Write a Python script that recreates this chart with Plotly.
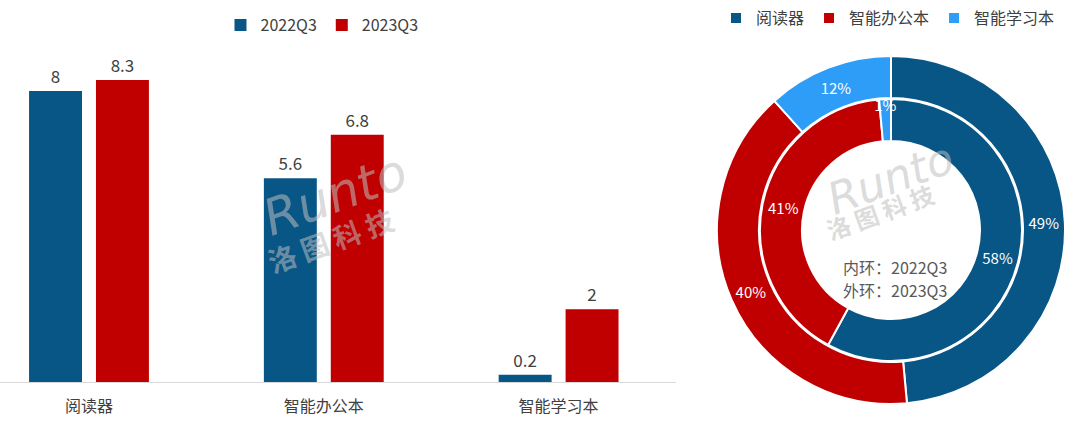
import plotly.graph_objects as go

categories = ["阅读器", "智能办公本", "智能学习本"]
series_names = ["2022Q3", "2023Q3"]
values_2022 = [8, 5.6, 0.2]
values_2023 = [8.3, 6.8, 2]
bar_colors = ["#085686", "#C00000"]
pie_colors = ["#085686", "#C00000", "#2E9DF7"]
center_lines = ["内环：2022Q3", "外环：2023Q3"]

FONT = "Noto Sans CJK SC"
W, H = 1080, 426

fig = go.Figure()
for name, vals, col in zip(series_names, [values_2022, values_2023], bar_colors):
    fig.add_trace(go.Bar(
        x=categories, y=vals, name=name, marker=dict(color=col, line=dict(width=0)),
        text=[f"{v:g}" for v in vals], textposition="outside", cliponaxis=False,
        textfont=dict(size=17, color="#404040", family=FONT),
        legend="legend",
    ))

# outer ring: 2023Q3
fig.add_trace(go.Pie(
    labels=categories, values=values_2023, sort=False, direction="clockwise", rotation=0,
    hole=132 / 174, marker=dict(colors=pie_colors, line=dict(color="white", width=2)),
    texttemplate="%{percent:.0%}", textposition="inside", insidetextorientation="horizontal",
    textfont=dict(size=15, color="white", family=FONT),
    domain=dict(x=[717 / W, 1065 / W], y=[(H - 404) / H, (H - 56) / H]),
    legend="legend2", showlegend=True,
))
# inner ring: 2022Q3
fig.add_trace(go.Pie(
    labels=categories, values=values_2022, sort=False, direction="clockwise", rotation=0,
    hole=89 / 131, marker=dict(colors=pie_colors, line=dict(color="white", width=2)),
    texttemplate="%{percent:.0%}", textposition="inside", insidetextorientation="horizontal",
    textfont=dict(size=15, color="white", family=FONT),
    domain=dict(x=[760 / W, 1022 / W], y=[(H - 361) / H, (H - 99) / H]),
    legend="legend2", showlegend=False,
))

WM = "rgba(190,190,190,0.55)"
annotations = [
    dict(text=center_lines[0], x=895 / W, y=(H - 266.5) / H, xref="paper", yref="paper",
         xanchor="center", yanchor="middle",
         showarrow=False, font=dict(size=16, color="#595959", family=FONT)),
    dict(text=center_lines[1], x=895 / W, y=(H - 290) / H, xref="paper", yref="paper",
         xanchor="center", yanchor="middle",
         showarrow=False, font=dict(size=16, color="#595959", family=FONT)),
    dict(text="<i>Runto</i>", x=335 / W, y=(H - 195) / H, xref="paper", yref="paper", showarrow=False,
         xanchor="center", yanchor="middle",
         textangle=-20, font=dict(size=50, color=WM, family="DejaVu Sans")),
    dict(text="<b>洛 图 科 技</b>", x=330 / W, y=(H - 240) / H, xref="paper", yref="paper", showarrow=False,
         xanchor="center", yanchor="middle",
         textangle=-20, font=dict(size=28, color=WM, family=FONT)),
    dict(text="<i>Runto</i>", x=890 / W, y=(H - 178) / H, xref="paper", yref="paper", showarrow=False,
         xanchor="center", yanchor="middle",
         textangle=-20, font=dict(size=44, color=WM, family="DejaVu Sans")),
    dict(text="<b>洛 图 科 技</b>", x=880 / W, y=(H - 212) / H, xref="paper", yref="paper", showarrow=False,
         xanchor="center", yanchor="middle",
         textangle=-20, font=dict(size=24, color=WM, family=FONT)),
]

fig.update_layout(
    width=W, height=H, margin=dict(l=0, r=0, t=0, b=0),
    paper_bgcolor="white", plot_bgcolor="white",
    barmode="group", bargap=0.43, bargroupgap=0.209,
    font=dict(family=FONT, color="#404040"),
    uniformtext=dict(minsize=15, mode="show"),
    xaxis=dict(domain=[0, 676 / W], range=[-0.379, 2.5], showline=True, linecolor="#D9D9D9", linewidth=1,
               showgrid=False, ticks="", tickfont=dict(size=16, color="#404040", family=FONT),
               ticklabelstandoff=10, fixedrange=True),
    yaxis=dict(domain=[(H - 382) / H, (H - 54.6) / H], range=[0, 9], visible=False, fixedrange=True),
    legend=dict(orientation="h", x=322 / W, y=1 - 8 / H, xanchor="center", yanchor="top",
                font=dict(size=16, color="#404040", family=FONT), itemwidth=30, bgcolor="rgba(0,0,0,0)"),
    legend2=dict(orientation="h", x=888 / W, y=1 - 1 / H, xanchor="center", yanchor="top",
                 font=dict(size=16, color="#404040", family=FONT), itemwidth=30, bgcolor="rgba(0,0,0,0)"),
    annotations=annotations,
    showlegend=True,
)

fig.write_html("out.html", config={"displayModeBar": False},
               post_script="document.body.style.margin='0';document.body.style.overflow='hidden';")
